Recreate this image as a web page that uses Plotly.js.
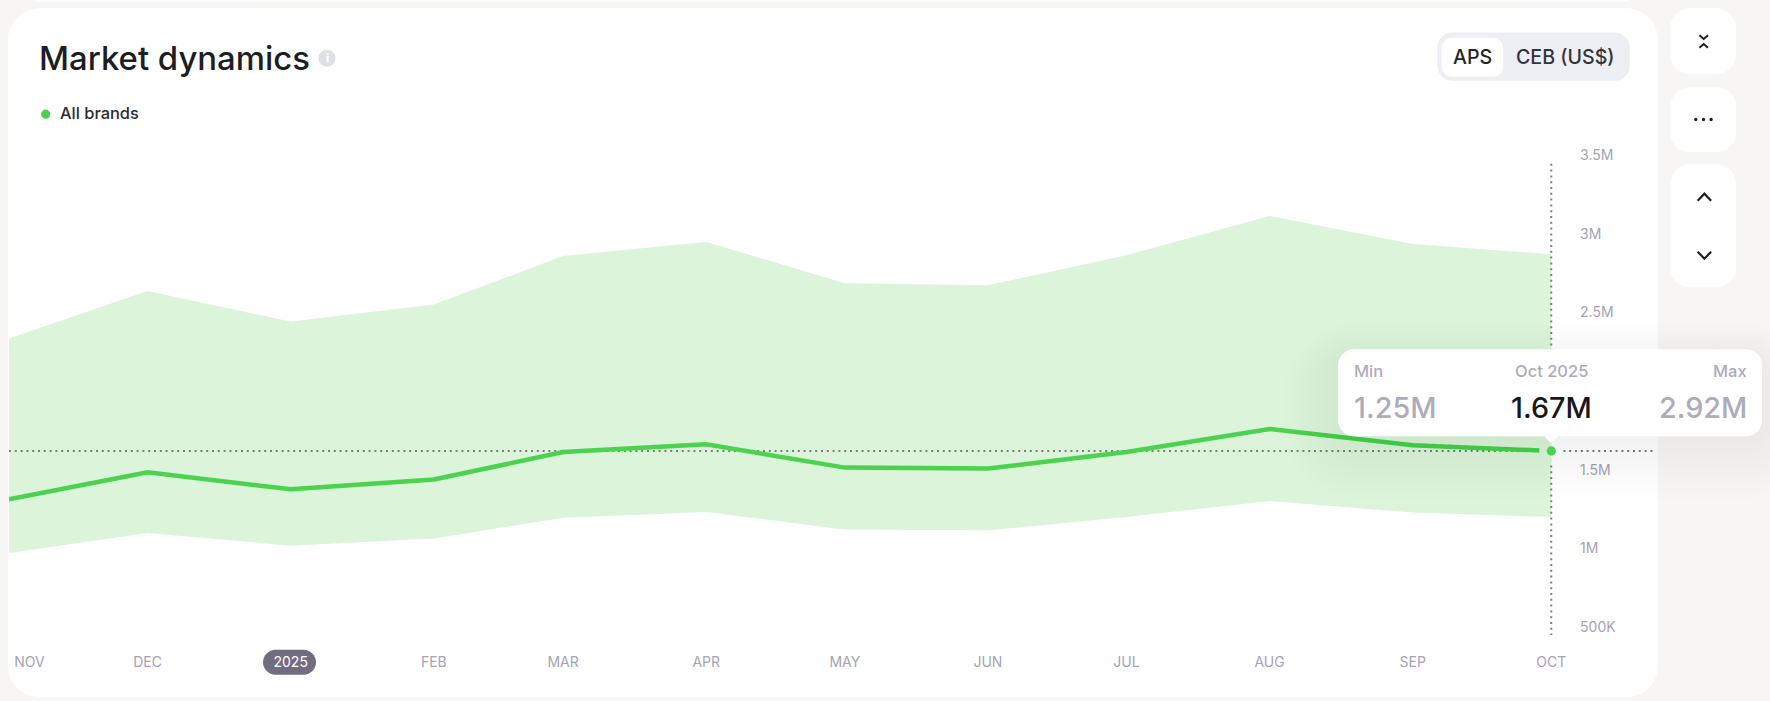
<!DOCTYPE html>
<html>
<head>
<meta charset="utf-8">
<script src="https://cdn.plot.ly/plotly-3.0.1.min.js"></script>
<style>html,body{margin:0;padding:0;background:#f7f6f4;overflow:hidden}#c{width:1770px;height:701px}</style>
</head>
<body>
<div id="c"></div>
<script>
const months = ['2024-11-01','2024-12-01','2025-01-01','2025-02-01','2025-03-01','2025-04-01','2025-05-01','2025-06-01','2025-07-01','2025-08-01','2025-09-01','2025-10-01'];
const brandValues = [1362000,1534000,1426000,1488000,1663000,1712000,1564000,1558000,1663000,1809000,1706000,1670000];
const minValues = [1021000,1148000,1068000,1113000,1246000,1282000,1170000,1165000,1250000,1352000,1278000,1250000];
const maxValues = [2384000,2687000,2492000,2600000,2909000,2998000,2736000,2723000,2914000,3163000,2985000,2920000];
const xTickVals = ['2024-11-05 10:00','2024-12-01','2025-01-01','2025-02-01','2025-03-01','2025-04-01','2025-05-01','2025-06-01','2025-07-01','2025-08-01','2025-09-01','2025-10-01'];
const xTickText = ['NOV','DEC','<span style="color:#ffffff">2025</span>','FEB','MAR','APR','MAY','JUN','JUL','AUG','SEP','OCT'];
const yTickVals = [500000,1000000,1500000,2500000,3000000,3500000];
const yTickText = ['500K','1M','1.5M','2.5M','3M','3.5M'];

const W=1770,H=701,L=9,R=1654.9,T=162.8,B=634.7;
const pw=R-L,ph=B-T;
const px=x=>((x-L)/pw).toFixed(6), py=y=>(1-(y-T)/ph).toFixed(6);
function rr(x0,y0,x1,y1,r){
  const c=r*0.448;
  const P=(x,y)=>px(x)+' '+py(y);
  return 'M'+P(x0+r,y0)+' L'+P(x1-r,y0)+' C'+P(x1-c,y0)+' '+P(x1,y0+c)+' '+P(x1,y0+r)+
   ' L'+P(x1,y1-r)+' C'+P(x1,y1-c)+' '+P(x1-c,y1)+' '+P(x1-r,y1)+
   ' L'+P(x0+r,y1)+' C'+P(x0+c,y1)+' '+P(x0,y1-c)+' '+P(x0,y1-r)+
   ' L'+P(x0,y0+r)+' C'+P(x0,y0+c)+' '+P(x0+c,y0)+' '+P(x0+r,y0)+' Z';
}
const box=(x0,y0,x1,y1,r,fill,layer,op,lc)=>({type:'path',xref:'paper',yref:'paper',path:rr(x0,y0,x1,y1,r),fillcolor:fill,opacity:op===undefined?1:op,layer:layer||'below',line:lc?{color:lc,width:1}:{width:0}});
const poly=(pts,stroke,w)=>({type:'path',xref:'paper',yref:'paper',layer:'above',path:'M'+pts.map(p=>px(p[0])+' '+py(p[1])).join(' L'),line:{color:stroke,width:w},fillcolor:'rgba(0,0,0,0)'});
const dot=(x,y,r,fill)=>({type:'circle',xref:'paper',yref:'paper',layer:'above',x0:px(x-r),x1:px(x+r),y0:py(y+r),y1:py(y-r),fillcolor:fill,line:{width:0}});
const last=months[months.length-1], lastV=brandValues[brandValues.length-1];
const xEnd='2025-10-23 11:15';
const pixelDisc=(path,fill)=>({type:'path',xref:'x',yref:'y',xsizemode:'pixel',ysizemode:'pixel',xanchor:last,yanchor:lastV,path:path,fillcolor:fill,line:{width:0},layer:'above'});

const shapes=[];
shapes.push(box(33,-8,1630,1.5,6,'#ffffff'));
shapes.push(box(8,8,1658,697,32,'#ffffff'));
shapes.push(box(1670,8,1736,74,20,'#ffffff'));
shapes.push(box(1670,87,1736,152,20,'#ffffff'));
shapes.push(box(1670,164,1736,287,20,'#ffffff'));
for(let i=0;i<4;i++) shapes.push(box(1438-8*i,33+2-4*i,1629+8*i,80+6+8*i,14+8*i,'#8a8aa0','below',0.005));
shapes.push(box(1438,33,1629,80,14,'#eeeff5','below',1,'#e9eaf6'));
shapes.push(box(1441.5,37.5,1503,76.5,10,'#ffffff'));
shapes.push(box(263,649.5,316,674.5,12.5,'#726c80'));
shapes.push({...dot(327,58,8.5,'#dfdfe9'),layer:'below'});
shapes.push({...dot(45.7,114,4.6,'#4bd24f'),layer:'below'});
shapes.push({type:'line',xref:'x',yref:'y',x0:last,x1:last,y0:3495000,y1:500000,layer:'above',line:{color:'#7c807d',width:2,dash:'2px,3.8px'}});
shapes.push(pixelDisc('M0 -12 C-6.6 -12 -12 -6.6 -12 0 C-12 6.6 -6.6 12 0 12 Z','#dbf4da'));
shapes.push(pixelDisc('M0 -12 C6.6 -12 12 -6.6 12 0 C12 6.6 6.6 12 0 12 Z','#ffffff'));
for(let i=0;i<12;i++) shapes.push(box(1338-5*i,349+6-3*i,1762+5*i,436+8+5*i,20+5*i,'#2a2a40','above',0.004));
shapes.push(box(1338,349,1762,436,16,'#ffffff','above'));
shapes.push({type:'path',xref:'paper',yref:'paper',layer:'above',path:'M'+px(1543)+' '+py(435)+' L'+px(1551)+' '+py(443)+' L'+px(1559)+' '+py(435)+' Z',fillcolor:'#ffffff',line:{width:0}});
shapes.push({type:'circle',xref:'x',yref:'y',xsizemode:'pixel',ysizemode:'pixel',xanchor:last,yanchor:lastV,x0:-4.6,x1:4.6,y0:-4.6,y1:4.6,fillcolor:'#4bd24f',line:{width:0},layer:'above'});
const ink='#1e1e26';
shapes.push(poly([[1699.3,35],[1703.6,38.8],[1707.9,35]],ink,2));
shapes.push(poly([[1699.3,47.6],[1703.6,43.8],[1707.9,47.6]],ink,2));
[1695.7,1703.4,1711].forEach(x=>shapes.push(dot(x,119.3,1.7,ink)));
shapes.push(poly([[1697.6,200.5],[1704.3,193.5],[1711,200.5]],ink,2.2));
shapes.push(poly([[1697.6,251.5],[1704.3,258.5],[1711,251.5]],ink,2.2));

const FONT='Inter, sans-serif', TITLEFONT='Inter, sans-serif';
const ann=(x,y,text,size,color,anchor,weight,family)=>({xref:'paper',yref:'paper',x:+px(x),y:+py(y),text:text,showarrow:false,xanchor:anchor||'left',yanchor:'middle',font:{family:family||FONT,size:size,color:color,weight:weight||400},borderpad:0});
const gray='#aeacba';
const annotations=[
  ann(37.5,57.5,'Market dynamics',32.9,'#1d1d24','left',500,TITLEFONT),
  ann(327,58,'i',11,'#ffffff','center',800),
  ann(58.5,113,'All brands',16.4,'#2b2b33','left',500),
  ann(1472.5,57,'APS',19.6,'#24242c','center',500),
  ann(1565,57,'CEB (US$)',19.6,'#33333c','center',500),
  ann(1353,370.5,'Min',16.5,gray,'left',500),
  ann(1551,370.5,'Oct 2025',16.5,gray,'center',500),
  ann(1748,370.5,'Max',16.5,gray,'right',500),
  ann(1353,407,'1.25M',28.8,gray,'left',500),
  ann(1551,407,'1.67M',28.8,'#17171d','center',500),
  ann(1748,407,'2.92M',28.8,gray,'right',500)
];

const traces=[
 {x:months,y:minValues,type:'scatter',mode:'lines',line:{width:0,color:'#dbf4da'},hoverinfo:'skip',showlegend:false,name:'Min'},
 {x:months,y:maxValues,type:'scatter',mode:'lines',fill:'tonexty',fillcolor:'#dbf4da',line:{width:0,color:'#dbf4da'},hoverinfo:'skip',showlegend:false,name:'Max'},
 {x:[months[0],xEnd],y:[lastV,lastV],type:'scatter',mode:'lines',line:{color:'#7c807d',width:2,dash:'2px,3.8px'},hoverinfo:'skip',showlegend:false,name:'Current'},
 {x:months,y:brandValues,type:'scatter',mode:'lines',line:{color:'#4bd24f',width:4.5,shape:'linear'},hoverinfo:'skip',showlegend:false,name:'All brands'}
];
const layout={
 width:W,height:H,autosize:false,
 margin:{l:L,r:W-R,t:T,b:H-B,pad:0},
 paper_bgcolor:'#f7f6f4',plot_bgcolor:'rgba(0,0,0,0)',
 showlegend:false,hovermode:false,
 xaxis:{type:'date',range:[months[0],xEnd],tickmode:'array',tickvals:xTickVals,ticktext:xTickText,showgrid:false,zeroline:false,showline:false,ticks:'',ticklabelstandoff:17,tickangle:0,tickfont:{family:FONT,size:14,color:'#a5a3b2'},fixedrange:true},
 yaxis:{type:'linear',range:[500000,3500000],side:'right',anchor:'free',position:(1551-L)/pw,tickmode:'array',tickvals:yTickVals,ticktext:yTickText,showgrid:false,zeroline:false,showline:false,ticks:'',ticklabelstandoff:28,ticklabelshift:-8,tickfont:{family:FONT,size:14,color:'#a5a3b2'},fixedrange:true},
 shapes:shapes,annotations:annotations
};
Plotly.newPlot('c',traces,layout,{displayModeBar:false,staticPlot:true});
</script>
</body>
</html>
